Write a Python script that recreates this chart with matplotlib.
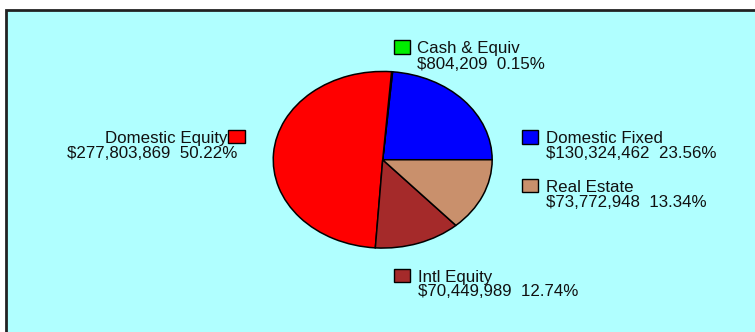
import matplotlib.pyplot as plt
from matplotlib.patches import Rectangle

# Portfolio allocation by asset class (pie drawn counter-clockwise from 3 o'clock)
classes = ["Domestic Fixed", "Cash & Equiv", "Domestic Equity", "Intl Equity", "Real Estate"]
amounts = [130324462, 804209, 277803869, 70449989, 73772948]
colors = ["#0000ff", "#00ee00", "#ff0000", "#a52a2a", "#c9906c"]

W, H = 755, 332
BG = "#b0ffff"

plt.rcParams["font.family"] = ["Liberation Sans", "DejaVu Sans"]

fig = plt.figure(figsize=(W / 100, H / 100), dpi=100)
fig.patch.set_facecolor("white")


def fx(px):
    return px / W


def fy(py):
    return 1 - py / H


# cyan panel with dark border, running off the right and bottom edges
fig.patches.append(Rectangle((fx(6), fy(H + 10)), 1.2, fy(10) - fy(H + 10),
                             transform=fig.transFigure, facecolor=BG,
                             edgecolor="#222222", linewidth=2, zorder=-1))

# elliptical pie: axes box is the ellipse's bounding box, aspect left free
left, right, top, bottom = 272.7, 492.7, 71, 248.5
ax = fig.add_axes([fx(left), fy(bottom), fx(right - left), fy(top) - fy(bottom)])
ax.set_zorder(1)
ax.pie(amounts, colors=colors, startangle=0, counterclock=True, radius=1,
       wedgeprops=dict(edgecolor="black", linewidth=1.1))
ax.set_aspect("auto")
ax.set_xlim(-1.005, 1.005)
ax.set_ylim(-1.005, 1.005)
ax.axis("off")

total = sum(amounts)
pcts = [a / total * 100 for a in amounts]

# label layout: (square left, square top, text x, line-1 baseline, line-2 baseline, align)
layout = {
    "Domestic Fixed": (521.7, 130.3, 545.7, 142.7, 157.7, "left"),
    "Cash & Equiv": (394.0, 40.3, 417.3, 53.5, 69.0, "left"),
    "Domestic Equity": (228.0, 130.0, None, 142.7, 157.7, "right"),
    "Intl Equity": (394.0, 268.7, 417.7, 281.7, 296.5, "left"),
    "Real Estate": (521.7, 179.0, 545.7, 191.7, 206.7, "left"),
}

fs = 12.2
for name, amt, pct, col in zip(classes, amounts, pcts, colors):
    sx, sy, tx, b1, b2, ha = layout[name]
    fig.patches.append(Rectangle((fx(sx), fy(sy + 13.3)), fx(16.5), fy(sy) - fy(sy + 13.3),
                                 transform=fig.transFigure, facecolor=col,
                                 edgecolor="black", linewidth=1, zorder=3))
    line2 = f"${amt:,.0f}  {pct:.2f}%"
    if ha == "left":
        fig.text(fx(tx), fy(b1), name, ha="left", va="baseline", fontsize=fs, color="#111111")
        fig.text(fx(tx), fy(b2), line2, ha="left", va="baseline", fontsize=fs, color="#111111")
    else:
        fig.text(fx(227.7), fy(b1), name, ha="right", va="baseline", fontsize=fs, color="#111111")
        fig.text(fx(237.3), fy(b2), line2, ha="right", va="baseline", fontsize=fs, color="#111111")

fig.savefig("out.png", dpi=100, facecolor=fig.get_facecolor())
